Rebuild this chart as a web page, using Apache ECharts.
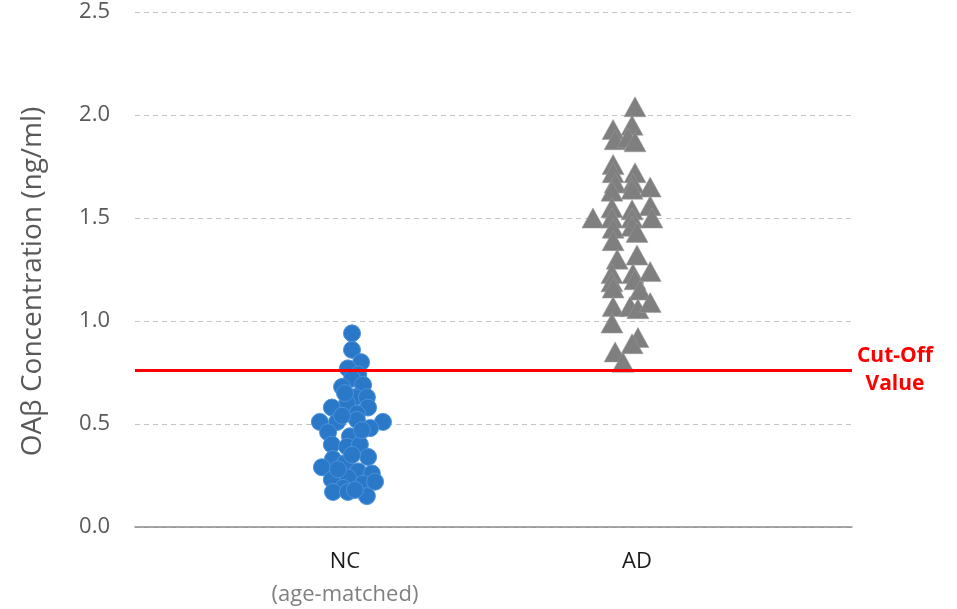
<!DOCTYPE html>
<html>
<head>
<meta charset="utf-8">
<script src="https://cdn.jsdelivr.net/npm/echarts@6/dist/echarts.min.js"></script>
<style>html,body{margin:0;padding:0;background:#fff;}#main{width:957px;height:609px;}</style>
</head>
<body>
<div id="main"></div>
<script>
// Categories
var categories = ['NC', 'AD'];
var categorySubLabels = ['(age-matched)', ''];
// Y-axis ticks
var yTicks = [0.0, 0.5, 1.0, 1.5, 2.0, 2.5];
// Cut-off value
var cutOff = 0.757;

// NC group: concentration values and horizontal swarm offsets
var ncValues = [0.94,0.86,0.80,0.77,0.74,0.72,0.68,0.69,0.63,0.63,0.60,0.58,0.58,0.55,0.51,0.51,0.52,0.51,0.48,0.46,0.44,0.40,0.39,0.40,0.34,0.33,0.31,0.29,0.27,0.26,0.23,0.24,0.21,0.22,0.19,0.17,0.17,0.15,0.54,0.35,0.18,0.28,0.47,0.65];
var ncOffsets = [0.024,0.024,0.055,0.010,0.045,0.024,-0.010,0.062,0.034,0.075,0.007,-0.045,0.079,0.041,-0.086,-0.027,0.041,0.130,0.086,-0.058,0.017,-0.045,0.007,0.051,0.079,-0.041,0.000,-0.079,0.045,0.092,-0.045,0.010,0.062,0.103,-0.007,-0.041,0.010,0.075,-0.010,0.024,0.034,-0.024,0.058,0.000];

// AD group
var adValues = [2.04,1.95,1.93,1.88,1.89,1.87,1.76,1.72,1.72,1.67,1.67,1.65,1.63,1.64,1.55,1.56,1.50,1.50,1.54,1.50,1.50,1.45,1.46,1.39,1.43,1.30,1.32,1.23,1.23,1.24,1.19,1.20,1.16,1.15,1.07,1.07,1.06,1.09,0.99,0.92,0.89,0.85,0.80];
var adOffsets = [-0.007,-0.017,-0.082,-0.075,-0.031,-0.007,-0.082,-0.082,-0.007,-0.075,-0.014,0.045,-0.086,-0.017,-0.086,0.045,-0.151,-0.086,-0.017,-0.017,0.051,-0.082,-0.017,-0.082,0.000,-0.068,0.000,-0.086,-0.014,0.045,-0.086,-0.007,-0.082,0.010,-0.082,-0.024,0.003,0.045,-0.086,0.003,-0.017,-0.075,-0.048];

function build(values, offsets, pos) {
  return values.map(function (v, i) { return [pos + offsets[i], v]; });
}

var FONT = '"Open Sans", "Noto Sans", sans-serif';
var chart = echarts.init(document.getElementById('main'), null, {renderer: 'canvas'});
chart.setOption({
  animation: false,
  backgroundColor: '#fff',
  grid: {left: 135, right: 105, top: 12, bottom: 82, containLabel: false},
  xAxis: {
    type: 'value',
    min: 0.281,
    max: 2.736,
    splitLine: {show: false},
    axisTick: {show: false},
    axisLine: {show: true, onZero: false, lineStyle: {color: '#8c8c8c', width: 1.5}},
    axisLabel: {
      customValues: [1, 2],
      margin: 20,
      formatter: function (v) {
        var i = Math.round(v) - 1;
        var s = '{a|' + categories[i] + '}';
        if (categorySubLabels[i]) s += '\n{b|' + categorySubLabels[i] + '}';
        return s;
      },
      rich: {
        a: {fontFamily: FONT, fontSize: 22, color: '#1a1a1a', lineHeight: 30},
        b: {fontFamily: FONT, fontSize: 22, color: '#808080', lineHeight: 36}
      }
    }
  },
  yAxis: {
    type: 'value',
    min: 0,
    max: 2.5,
    interval: 0.5,
    name: 'OAβ Concentration (ng/ml)',
    nameLocation: 'middle',
    nameGap: 88,
    nameTextStyle: {fontFamily: FONT, fontSize: 28, color: '#595959', padding: [0, 24, 0, 0]},
    axisLine: {show: false},
    axisTick: {show: false},
    axisLabel: {
      margin: 25,
      fontFamily: FONT,
      fontSize: 22,
      color: '#595959',
      formatter: function (v) { return v.toFixed(1); }
    },
    splitLine: {show: true, lineStyle: {color: '#c4c4c4', type: [5, 4], width: 1}}
  },
  series: [
    {
      name: 'NC',
      type: 'scatter',
      symbol: 'circle',
      symbolSize: 17,
      itemStyle: {color: '#2a78c8', borderColor: '#4b92dc', borderWidth: 1, opacity: 1},
      data: build(ncValues, ncOffsets, 1),
      z: 3,
      markLine: {
        silent: true,
        symbol: 'none',
        lineStyle: {color: '#ff0000', width: 3, type: 'solid', opacity: 1},
        label: {
          show: true,
          position: 'end',
          formatter: 'Cut-Off\nValue',
          color: '#ff0000',
          fontFamily: FONT,
          fontWeight: 'bold',
          fontSize: 21,
          lineHeight: 28,
          align: 'center',
          distance: 43
        },
        data: [{yAxis: cutOff}]
      }
    },
    {
      name: 'AD',
      type: 'scatter',
      symbol: 'triangle',
      symbolSize: [22, 20],
      itemStyle: {color: '#7f7f7f', borderColor: '#9a9a9a', borderWidth: 0.5, opacity: 1},
      data: build(adValues, adOffsets, 2),
      z: 3
    }
  ]
});
</script>
</body>
</html>
